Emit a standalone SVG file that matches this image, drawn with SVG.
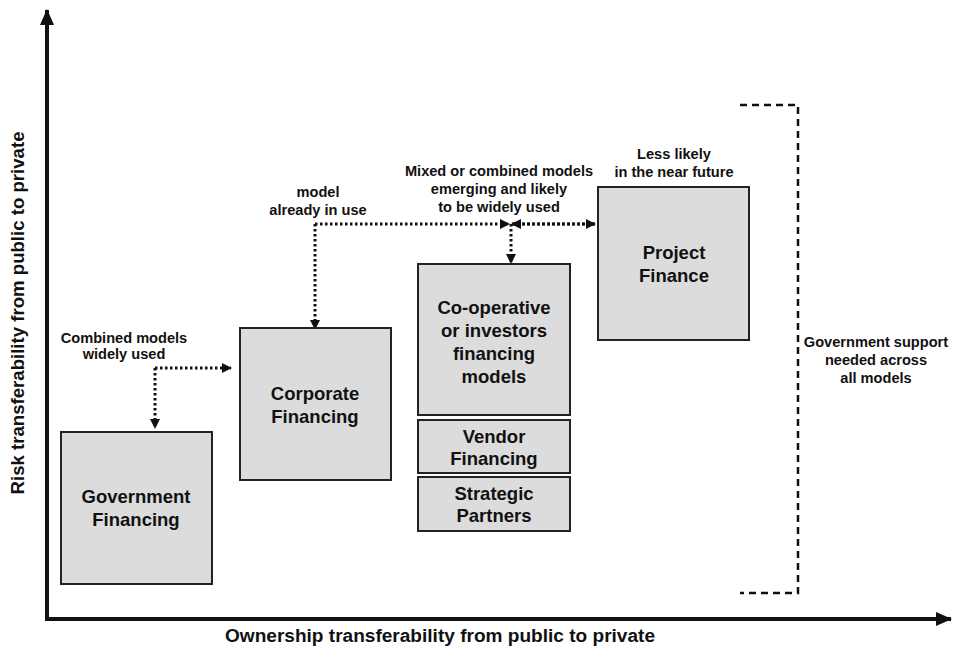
<svg xmlns="http://www.w3.org/2000/svg" width="954" height="650" viewBox="0 0 954 650">
<defs>
<style>
.box{fill:#dcdcdc;stroke:#222;stroke-width:2}
.bt{font-family:"Liberation Sans",Arial,sans-serif;font-weight:bold;font-size:18.5px;fill:#111;text-anchor:middle}
.lb{font-family:"Liberation Sans",Arial,sans-serif;font-weight:bold;font-size:14.6px;fill:#111;text-anchor:middle}
.ax{font-family:"Liberation Sans",Arial,sans-serif;font-weight:bold;font-size:18px;fill:#111;text-anchor:middle}
.dot{fill:none;stroke:#111;stroke-width:3;stroke-dasharray:2.5 2.5}
.dash{fill:none;stroke:#111;stroke-width:2.5;stroke-dasharray:7 5}
</style>
<marker id="ah" markerWidth="10" markerHeight="10" refX="9" refY="5" orient="auto" markerUnits="userSpaceOnUse">
<path d="M0,0 L10,5 L0,10 Z" fill="#111"/>
</marker>
<marker id="axh" markerWidth="16" markerHeight="14" refX="15" refY="7" orient="auto" markerUnits="userSpaceOnUse">
<path d="M0,0 L16,7 L0,14 Z" fill="#111"/>
</marker>
</defs>
<rect width="954" height="650" fill="#fff"/>
<g id="axes">
<line x1="47" y1="619" x2="47" y2="10" stroke="#111" stroke-width="4" marker-end="url(#axh)"/>
<line x1="45" y1="619" x2="951" y2="619" stroke="#111" stroke-width="4" marker-end="url(#axh)"/>
<text class="ax" transform="translate(24,313) rotate(-90)" textLength="363" lengthAdjust="spacingAndGlyphs">Risk transferability from public to private</text>
<text class="ax" x="440" y="642" textLength="430" lengthAdjust="spacingAndGlyphs">Ownership transferability from public to private</text>
</g>
<g id="connectors">
<path class="dot" d="M155,368 H231" marker-end="url(#ah)"/>
<path class="dot" d="M155,368 V428" marker-end="url(#ah)"/>
<path class="dot" d="M315,224 H509" marker-end="url(#ah)"/>
<path class="dot" d="M315,224 V329" marker-end="url(#ah)"/>
<path class="dot" d="M595,224 H512" marker-end="url(#ah)"/>
<path class="dot" d="M512,224 H595" marker-end="url(#ah)"/>
<path class="dot" d="M511,224 V263" marker-end="url(#ah)"/>
<path class="dash" d="M740,105 H798 V593 H740"/>
</g>
<g id="gov">
<rect class="box" x="61" y="432" width="151" height="152"/>
<text class="bt" x="136" y="503">Government</text>
<text class="bt" x="136" y="526">Financing</text>
</g>
<g id="corp">
<rect class="box" x="240" y="328" width="151" height="152"/>
<text class="bt" x="315" y="400">Corporate</text>
<text class="bt" x="315" y="423">Financing</text>
</g>
<g id="coop">
<rect class="box" x="418" y="264" width="152" height="151"/>
<text class="bt" x="494" y="314">Co-operative</text>
<text class="bt" x="494" y="337">or investors</text>
<text class="bt" x="494" y="360">financing</text>
<text class="bt" x="494" y="383">models</text>
</g>
<g id="vendor">
<rect class="box" x="418" y="420" width="152" height="53"/>
<text class="bt" x="494" y="443">Vendor</text>
<text class="bt" x="494" y="465">Financing</text>
</g>
<g id="strategic">
<rect class="box" x="418" y="477" width="152" height="54"/>
<text class="bt" x="494" y="500">Strategic</text>
<text class="bt" x="494" y="522">Partners</text>
</g>
<g id="project">
<rect class="box" x="598" y="187" width="151" height="153"/>
<text class="bt" x="674" y="259">Project</text>
<text class="bt" x="674" y="282">Finance</text>
</g>
<g id="labels">
<text class="lb" x="124" y="343">Combined models</text>
<text class="lb" x="124" y="359">widely used</text>
<text class="lb" x="318" y="197">model</text>
<text class="lb" x="318" y="215">already in use</text>
<text class="lb" x="499" y="176">Mixed or combined models</text>
<text class="lb" x="499" y="194">emerging and likely</text>
<text class="lb" x="499" y="212">to be widely used</text>
<text class="lb" x="674" y="159">Less likely</text>
<text class="lb" x="674" y="177">in the near future</text>
<text class="lb" x="876" y="347">Government support</text>
<text class="lb" x="876" y="365">needed across</text>
<text class="lb" x="876" y="383">all models</text>
</g>
</svg>
